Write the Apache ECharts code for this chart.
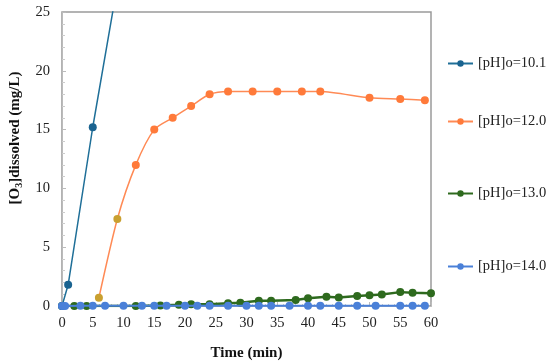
<!DOCTYPE html>
<html><head><meta charset="utf-8">
<script src="https://cdn.jsdelivr.net/npm/echarts@6/dist/echarts.min.js"></script>
<style>html,body{margin:0;padding:0;background:#fff}#c{width:550px;height:364px}</style>
</head><body><div id="c"></div>
<script>
var xTicks = [0,5,10,15,20,25,30,35,40,45,50,55,60];
var yTicks = [0,5,10,15,20,25];
var seriesNames = ['[pH]o=10.1','[pH]o=12.0','[pH]o=13.0','[pH]o=14.0'];

var ph101_t = [0, 1, 5, 10];
var ph101_v = [0, 1.8, 15.2, 30.3];

var ph120_t = [6, 9, 12, 15, 18, 21, 24, 27, 31, 35, 39, 42, 50, 55, 59];
var ph120_v = [0.7, 7.4, 12.0, 15.0, 16.0, 17.0, 18.0, 18.25, 18.25, 18.25, 18.25, 18.25, 17.7, 17.6, 17.5];

var ph130_t = [0, 2, 4, 12, 16, 19, 21, 24, 27, 29, 32, 34, 38, 40, 43, 45, 48, 50, 52, 55, 57, 60];
var ph130_v = [0, 0, 0, 0, 0.05, 0.1, 0.15, 0.15, 0.23, 0.28, 0.45, 0.45, 0.51, 0.65, 0.79, 0.72, 0.85, 0.92, 0.97, 1.18, 1.12, 1.08];

var ph140_t = [0, 0.5, 3, 5, 7, 10, 13, 15, 17, 20, 22, 24, 27, 30, 32, 34, 37, 40, 42, 45, 48, 51, 55, 57, 59];
var ph140_v = [0, 0, 0.02, 0.02, 0.02, 0.02, 0.02, 0.02, 0.02, 0.02, 0.02, 0.02, 0.02, 0.02, 0.02, 0.02, 0.02, 0.02, 0.02, 0.02, 0.02, 0.02, 0.02, 0.02, 0.02];

function pairs(t, v) { return t.map(function (x, i) { return [x, v[i]]; }); }

var colors = ['#1a6390', '#ff7a3a', '#2e6a1e', '#4a80d8'];
var serif = '"Liberation Serif","Times New Roman",serif';

var orangeData = pairs(ph120_t, ph120_v).map(function (p, i) {
  if (i < 2) return { value: p, itemStyle: { color: '#c9a030' } };
  return p;
});

var chart = echarts.init(document.getElementById('c'));
var legendTops = [51, 109, 181, 254];
chart.setOption({
  animation: false,
  textStyle: { fontFamily: serif },
  grid: { left: 62, right: 119, top: 12, bottom: 58, show: true, borderColor: '#9a9a9a', borderWidth: 1.5,
    containLabel: false, outerBoundsMode: 'none' },
  legend: seriesNames.map(function (n, i) {
    return {
      data: [n], orient: 'vertical', left: 442, top: legendTops[i],
      itemWidth: 25, itemHeight: 8, itemGap: 0,
      textStyle: { fontFamily: serif, fontSize: 14.5, color: '#222' }
    };
  }),
  xAxis: {
    type: 'value', min: 0, max: 60, interval: 5,
    name: 'Time (min)', nameLocation: 'middle', nameGap: 40,
    nameTextStyle: { fontFamily: serif, fontSize: 15, fontWeight: 'bold', color: '#111' },
    axisLine: { lineStyle: { color: '#bbb' } },
    axisTick: { inside: true, length: 4, lineStyle: { color: '#bbb' } },
    minorTick: { show: true, splitNumber: 5, length: 2, lineStyle: { color: '#ccc' } },
    axisLabel: { fontFamily: serif, fontSize: 14.5, color: '#222', margin: 10 },
    splitLine: { show: false }
  },
  yAxis: {
    type: 'value', min: 0, max: 25, interval: 5,
    name: '[O{sub|3}]dissolved (mg/L)', nameLocation: 'middle', nameGap: 36, nameRotate: 90,
    nameTextStyle: { fontFamily: serif, fontSize: 15, fontWeight: 'bold', color: '#111', padding: [0, 0, 0, 42],
      rich: { sub: { fontFamily: serif, fontSize: 10, fontWeight: 'bold', verticalAlign: 'bottom', padding: [8, 0, 0, 0], color: '#111' } } },
    axisLine: { show: true, lineStyle: { color: '#bbb' } },
    axisTick: { inside: true, length: 4, lineStyle: { color: '#bbb' } },
    minorTick: { show: true, splitNumber: 5, length: 3, lineStyle: { color: '#ccc' } },
    axisLabel: { fontFamily: serif, fontSize: 14.5, color: '#222', margin: 12 },
    splitLine: { show: false }
  },
  series: [
    { name: seriesNames[0], type: 'line', data: pairs(ph101_t, ph101_v), symbol: 'circle', symbolSize: 8,
      color: colors[0], lineStyle: { width: 1.5, color: '#1f6f98' }, clip: true, z: 4 },
    { name: seriesNames[1], type: 'line', data: orangeData, smooth: 0.25, symbol: 'circle', symbolSize: 8,
      color: colors[1], lineStyle: { width: 1.5, color: '#ff8a55' }, z: 3 },
    { name: seriesNames[2], type: 'line', data: pairs(ph130_t, ph130_v), symbol: 'circle', symbolSize: 8,
      color: colors[2], lineStyle: { width: 2.5 }, z: 2 },
    { name: seriesNames[3], type: 'line', data: pairs(ph140_t, ph140_v), symbol: 'circle', symbolSize: 8,
      color: colors[3], lineStyle: { width: 2 }, z: 5 }
  ]
});
</script></body></html>
